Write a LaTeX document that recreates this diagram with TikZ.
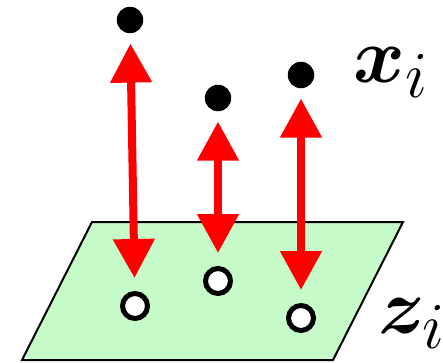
\documentclass[tikz,border=0pt]{standalone}
\usepackage{amsmath,amssymb,bm}
\usepackage{graphicx}
\usepackage{xcolor}
\usetikzlibrary{arrows.meta}
\definecolor{planegreen}{HTML}{C6FAC8}
\definecolor{linkred}{HTML}{FF0000}
\newcommand{\biglabel}[1]{\scalebox{1.8}{\fontsize{24.88}{30}\selectfont $#1$}}
\tikzset{
  datadot/.style={circle, fill=black, inner sep=0pt, minimum size=0.53cm},
  latentdot/.style={circle, draw=black, line width=0.1cm, fill=white, inner sep=0pt, minimum size=0.5cm},
  maparrow/.style={{Triangle[length=0.78cm,width=0.8cm]}-{Triangle[length=0.78cm,width=0.8cm]}, line width=0.16cm, draw=linkred, shorten <=0.2cm, shorten >=0.26cm},
  varlabel/.style={inner sep=0pt, anchor=base west}
}
\begin{document}
\begin{tikzpicture}[x=0.02cm, y=-0.02cm]
  \useasboundingbox (0,0) rectangle (443,362);
  % latent plane
  \draw[fill=planegreen, line width=0.04cm] (92,222) -- (403,222) -- (333,360) -- (22,360) -- cycle;
  % observed points
  \node[datadot] (x1) at (130,20) {};
  \node[datadot] (x2) at (218,98) {};
  \node[datadot] (x3) at (301,75) {};
  % latent points
  \node[latentdot] (z1) at (135,306) {};
  \node[latentdot] (z2) at (218,281) {};
  \node[latentdot] (z3) at (301,318) {};
  \draw[maparrow] (x1) -- (z1);
  \draw[maparrow] (x2) -- (z2);
  \draw[maparrow] (x3) -- (z3);
  \node[varlabel] (xlab) at (353,82) {\biglabel{\bm{x}_i}};
  \node[varlabel] (zlab) at (378,333) {\biglabel{\bm{z}_i}};
\end{tikzpicture}
\end{document}
